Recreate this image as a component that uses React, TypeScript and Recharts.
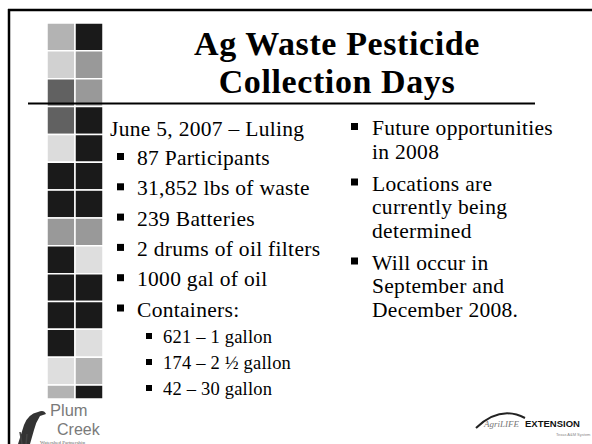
import { Bar, BarChart, Cell, XAxis, YAxis } from 'recharts';

// tile strip on the left: two columns, 13.5 rows
const columns = ['left', 'right'];
const leftShades = ['#b3b3b3', '#d1d1d1', '#616161', '#616161', '#dcdcdc', '#1a1a1a', '#1a1a1a', '#999999', '#1a1a1a', '#1a1a1a', '#1a1a1a', '#1a1a1a', '#dedede', '#b3b3b3'];
const rightShades = ['#1a1a1a', '#999999', '#999999', '#1a1a1a', '#1a1a1a', '#1a1a1a', '#1a1a1a', '#999999', '#dedede', '#1a1a1a', '#1a1a1a', '#dedede', '#b3b3b3', '#1a1a1a'];
const rowSizes = [1, 1, 1, 1, 1, 1, 1, 1, 1, 1, 1, 1, 1, 0.5];

const titleLines = ['Ag Waste Pesticide', 'Collection Days'];
const eventLine = 'June 5, 2007 \u2013 Luling';
const eventItems = ['87 Participants', '31,852 lbs of waste', '239 Batteries', '2 drums of oil filters', '1000 gal of oil', 'Containers:'];
const containerItems = ['621 \u2013 1 gallon', '174 \u2013 2 \u00bd gallon', '42 \u2013 30 gallon'];
const futureItems = [
  ['Future opportunities', 'in 2008'],
  ['Locations are', 'currently being', 'determined'],
  ['Will occur in', 'September and', 'December 2008.'],
];

const serif = '"Liberation Serif", "DejaVu Serif", serif';
const sans = '"Liberation Sans", Arial, sans-serif';

const tileData = columns.map((c) => {
  const row: Record<string, any> = { col: c };
  rowSizes.forEach((v, i) => { row['r' + i] = v; });
  return row;
});

function Bullet({ x, y, s }: { x: number; y: number; s: number }) {
  return <rect x={x} y={y - s} width={s} height={s} fill="#000" />;
}

export default function App() {
  let rightY = 135;
  const rightText: JSX.Element[] = [];
  futureItems.forEach((item, pi) => {
    rightText.push(<Bullet key={'b' + pi} x={351} y={rightY - 5} s={7} />);
    item.forEach((line, li) => {
      rightText.push(
        <text key={pi + '-' + li} x={372} y={rightY} fontSize={21.5} letterSpacing={0.3}>{line}</text>
      );
      rightY += 23.5;
    });
    rightY += 8.5;
  });

  return (
    <div style={{ position: 'absolute', left: 0, top: 0, width: 592, height: 444, background: '#fff', overflow: 'hidden' }}>
      <div style={{ position: 'absolute', left: 47, top: 23 }}>
        <BarChart width={56} height={376} data={tileData} margin={{ top: 0, right: 0, bottom: 0, left: 0 }} barCategoryGap={0} barGap={0}>
          <XAxis dataKey="col" hide />
          <YAxis type="number" hide reversed domain={[0, 13.5]} />
          {rowSizes.map((_, i) => (
            <Bar key={i} dataKey={'r' + i} stackId="tiles" isAnimationActive={false} stroke="#ffffff" strokeWidth={1.5}>
              {columns.map((c, ci) => (
                <Cell key={c} fill={(ci === 0 ? leftShades : rightShades)[i]} />
              ))}
            </Bar>
          ))}
        </BarChart>
      </div>

      <svg width={592} height={444} style={{ position: 'absolute', left: 0, top: 0 }} fontFamily={serif} fill="#000">
        {/* slide frame */}
        <line x1={8} y1={10} x2={592} y2={10} stroke="#000" strokeWidth={2.5} />
        <line x1={9} y1={9} x2={9} y2={444} stroke="#000" strokeWidth={2.5} />

        {titleLines.map((t, i) => (
          <text key={t} x={337} y={55 + i * 38} fontSize={34} fontWeight="bold" textAnchor="middle" letterSpacing={0.6}>{t}</text>
        ))}
        <line x1={28} y1={103.5} x2={535} y2={103.5} stroke="#000" strokeWidth={2} />

        <text x={110} y={136} fontSize={21.5} letterSpacing={0.3}>{eventLine}</text>
        {eventItems.map((t, i) => (
          <g key={t}>
            <Bullet x={117} y={165 + i * 30.3 - 5} s={7} />
            <text x={137} y={165 + i * 30.3} fontSize={21.5} letterSpacing={0.3}>{t}</text>
          </g>
        ))}
        {containerItems.map((t, i) => (
          <g key={t}>
            <Bullet x={146} y={343 + i * 26 - 4} s={6} />
            <text x={163} y={343 + i * 26} fontSize={18.5} letterSpacing={0.2}>{t}</text>
          </g>
        ))}

        {rightText}

        {/* Plum Creek logo */}
        <path d="M18 444 L24 425 Q28 414 38 412 Q44 409 46 414 L40 416 Q36 422 34 430 L30 444 Z" fill="#333" />
        <path d="M22 444 L20 432 M26 444 L27 434" stroke="#444" strokeWidth={1.5} />
        <text x={50} y={416} fontSize={16.5} fontFamily={sans} fill="#7a7a7a">Plum</text>
        <text x={57} y={435} fontSize={16} fontFamily={sans} fill="#7a7a7a">Creek</text>
        <text x={40} y={443.8} fontSize={5} fill="#666">Watershed Partnership</text>

        {/* AgriLIFE Extension logo */}
        <path d="M476 428 Q500 405 525 418" stroke="#222" strokeWidth={2} fill="none" />
        <text x={484} y={427} fontSize={9} fontStyle="italic" fill="#777">AgriLIFE</text>
        <text x={525} y={427} fontSize={9.5} fontFamily={sans} fontWeight="bold" fill="#111">EXTENSION</text>
        <text x={556} y={436} fontSize={4} fontFamily={sans} fill="#888">Texas A&amp;M System</text>
      </svg>
    </div>
  );
}
